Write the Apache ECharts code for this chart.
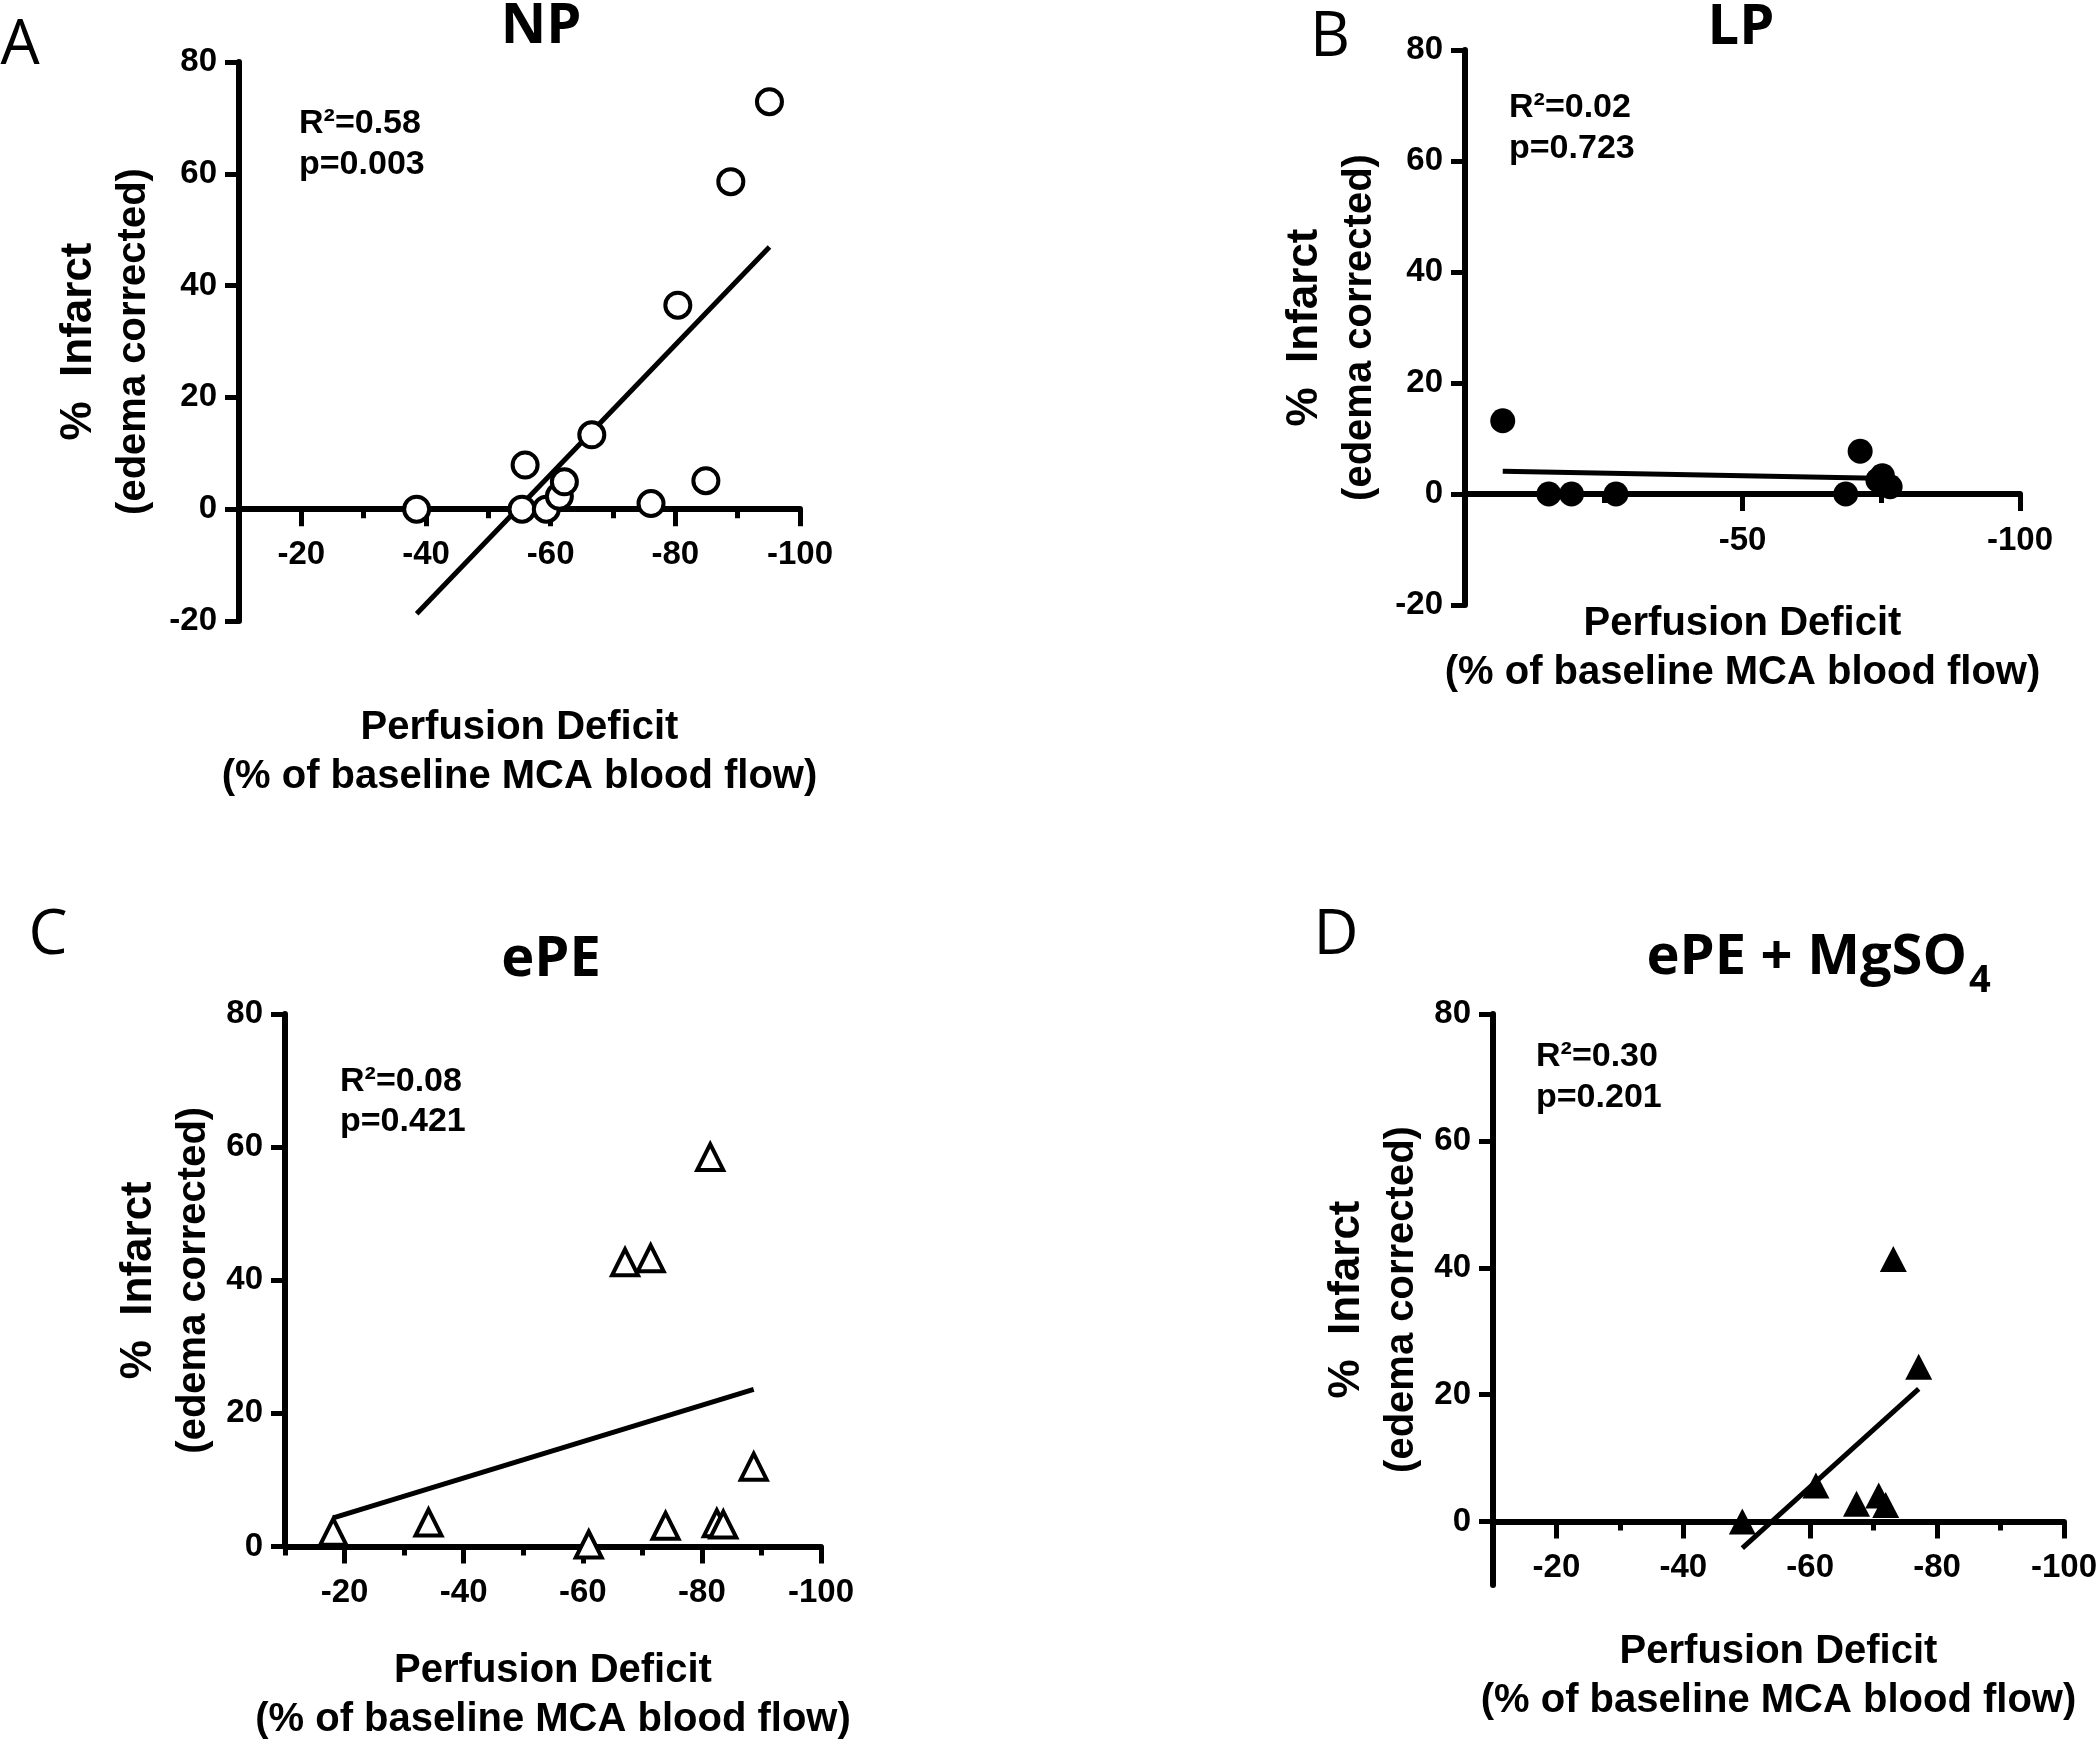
<!DOCTYPE html>
<html>
<head>
<meta charset="utf-8">
<script src="https://cdn.jsdelivr.net/npm/echarts@6/dist/echarts.min.js"></script>
<style>
html,body{margin:0;padding:0;background:#fff;}
#chart{width:2100px;height:1745px;}
</style>
</head>
<body>
<div id="chart"></div>
<script>
// values: [perfusion deficit, % infarct]
var npPoints = [[-38.5,0],[-55.4,0],[-59.3,0],[-55.9,7.9],[-61.4,2.3],[-62.2,4.9],[-66.6,13.3],[-76.1,1.0],[-80.4,36.5],[-84.9,5.1],[-88.9,58.6],[-95.1,72.9]];
var npFit = [[-38.5,-18.7],[-95.1,46.9]];

var lpPoints = [[-6.8,13.2],[-15.1,0],[-19.2,0],[-27.2,0],[-68.6,0],[-71.2,7.7],[-74.4,2.5],[-75.2,3.3],[-76.6,1.3]];
var lpFit = [[-6.8,4.1],[-76.6,2.8]];

var epePoints = [[-18.1,2.2],[-34.1,3.6],[-61.0,0.3],[-67.1,42.7],[-71.4,43.3],[-73.9,3.1],[-81.4,58.5],[-82.5,3.5],[-83.6,3.3],[-88.7,12.0]];
var epeFit = [[-18.1,4.3],[-88.7,23.6]];

var mgPoints = [[-49.3,0],[-60.9,5.7],[-67.3,2.8],[-70.8,4.1],[-71.9,2.6],[-73.1,41.4],[-77.1,24.4]];
var mgFit = [[-49.3,-4.2],[-77.1,20.9]];

var stats = [['R²=0.58','p=0.003'],['R²=0.02','p=0.723'],['R²=0.08','p=0.421'],['R²=0.30','p=0.201']];

var xMajorTicks = [-100,-80,-60,-40,-20];
var xMinorTicks = [-90,-70,-50,-30,-10];
var lpMajorTicks = [-100,-50];
var lpMinorTicks = [-75,-25];
var yTicksNeg = [-20,0,20,40,60,80];
var yTicksPos = [0,20,40,60,80];

var axisFont = '"Liberation Sans", Arial, sans-serif';
var headFont = '"Open Sans", Lato, sans-serif';

var panels = [
  {grid:{left:239,top:62,width:561,height:559}, xMax:-10, yMin:-20, yTicks:yTicksNeg, major:xMajorTicks, minor:xMinorTicks, xGap:194.5, yGap:77.5, lm:29,
   points:npPoints, fit:npFit, symbol:'circle', size:25, fill:'#fff', border:4},
  {grid:{left:1465,top:50,width:555,height:555}, xMax:0, yMin:-20, yTicks:yTicksNeg, major:lpMajorTicks, minor:lpMinorTicks, xGap:105.5, yGap:77.5, lm:30,
   points:lpPoints, fit:lpFit, symbol:'circle', size:25, fill:'#000', border:0},
  {grid:{left:285,top:1014,width:536,height:538}, xMax:-10, yMin:0, yTicks:yTicksPos, major:xMajorTicks, minor:xMinorTicks, xGap:99.5, yGap:64, lm:30,
   points:epePoints, fit:epeFit, symbol:'triangle', size:[26,26], fill:'#fff', border:4},
  {grid:{left:1493,top:1014,width:571,height:571}, xMax:-10, yMin:-10, yTicks:yTicksPos, major:xMajorTicks, minor:xMinorTicks, xGap:105.5, yGap:64, lm:30,
   points:mgPoints, fit:mgFit, symbol:'triangle', size:[27,26], fill:'#000', border:0}
];

var grids = [], xAxes = [], yAxes = [], series = [];
panels.forEach(function (p, i) {
  grids.push(p.grid);
  // the x axis sits on y = 0, so lift it from the grid bottom by that share of the height
  var lift = -p.grid.height * (0 - p.yMin) / (80 - p.yMin);
  xAxes.push({
    gridIndex: i, type: 'value', min: -100, max: p.xMax, inverse: true, position: 'bottom', offset: lift,
    axisLine: {show: true, onZero: false, lineStyle: {color: '#000', width: 6}},
    axisTick: {show: true, customValues: p.major, length: 17, lineStyle: {color: '#000', width: 5}},
    axisLabel: {customValues: p.major, margin: p.lm, color: '#000', fontFamily: axisFont, fontWeight: 'bold', fontSize: 33},
    splitLine: {show: false},
    name: 'Perfusion Deficit\n(% of baseline MCA blood flow)', nameLocation: 'middle', nameGap: p.xGap,
    nameTextStyle: {color: '#000', fontFamily: axisFont, fontWeight: 'bold', fontSize: 40, lineHeight: 49}
  });
  // second axis only for the short minor ticks
  xAxes.push({
    gridIndex: i, type: 'value', min: -100, max: p.xMax, inverse: true, position: 'bottom', offset: lift,
    axisLine: {show: false, onZero: false},
    axisTick: {show: true, customValues: p.minor, length: 9, lineStyle: {color: '#000', width: 5}},
    axisLabel: {show: false},
    splitLine: {show: false}
  });
  yAxes.push({
    gridIndex: i, type: 'value', min: p.yMin, max: 80,
    axisLine: {show: true, onZero: false, lineStyle: {color: '#000', width: 6}},
    axisTick: {show: true, customValues: p.yTicks, length: 14, lineStyle: {color: '#000', width: 5}},
    axisLabel: {customValues: p.yTicks, margin: 22, color: '#000', fontFamily: axisFont, fontWeight: 'bold', fontSize: 33},
    splitLine: {show: false},
    name: '{a|%  Infarct}\n{b|(edema corrected)}', nameLocation: 'middle', nameRotate: 90, nameGap: p.yGap,
    nameTextStyle: {
      color: '#000', fontFamily: axisFont, fontWeight: 'bold', lineHeight: 55,
      rich: {
        a: {fontFamily: axisFont, fontWeight: 'bold', fontSize: 44, lineHeight: 55, color: '#000'},
        b: {fontFamily: axisFont, fontWeight: 'bold', fontSize: 40, lineHeight: 55, color: '#000'}
      }
    }
  });
  series.push({
    type: 'line', xAxisIndex: 2 * i, yAxisIndex: i, data: p.fit, symbol: 'none', z: 2,
    lineStyle: {color: '#000', width: 5}, silent: true
  });
  series.push({
    type: 'scatter', xAxisIndex: 2 * i, yAxisIndex: i, data: p.points, z: 3,
    symbol: p.symbol, symbolSize: p.size,
    itemStyle: {color: p.fill, borderColor: '#000', borderWidth: p.border, opacity: 1}
  });
});

function txt(x, y, s, font, align) {
  return {type: 'text', x: x, y: y, z: 10,
    style: {text: s, font: font, fill: '#000', align: align || 'center', verticalAlign: 'middle'}};
}
var letterFont = 'normal 62px ' + headFont;
var titleFont = 'bold 56px ' + headFont;
var statFont = 'bold 34px ' + axisFont;

var graphics = [
  txt(20, 46, 'A', letterFont), txt(1330, 38, 'B', letterFont),
  txt(48, 936, 'C', letterFont), txt(1336, 936, 'D', letterFont),
  txt(541, 27, 'NP', titleFont), txt(1741, 28, 'LP', titleFont),
  txt(551, 960, 'ePE', titleFont),
  txt(1967, 958, 'ePE + MgSO', titleFont, 'right'),
  txt(1969, 981, '4', 'bold 38px ' + headFont, 'left')
];
var statPos = [[299,124,165],[1509,108,149],[340,1082,1122],[1536,1057,1098]];
statPos.forEach(function (s, i) {
  graphics.push(txt(s[0], s[1], stats[i][0], statFont, 'left'));
  graphics.push(txt(s[0], s[2], stats[i][1], statFont, 'left'));
});

var chart = echarts.init(document.getElementById('chart'));
chart.setOption({
  animation: false,
  backgroundColor: '#fff',
  grid: grids,
  xAxis: xAxes,
  yAxis: yAxes,
  series: series,
  graphic: graphics
});
</script>
</body>
</html>
